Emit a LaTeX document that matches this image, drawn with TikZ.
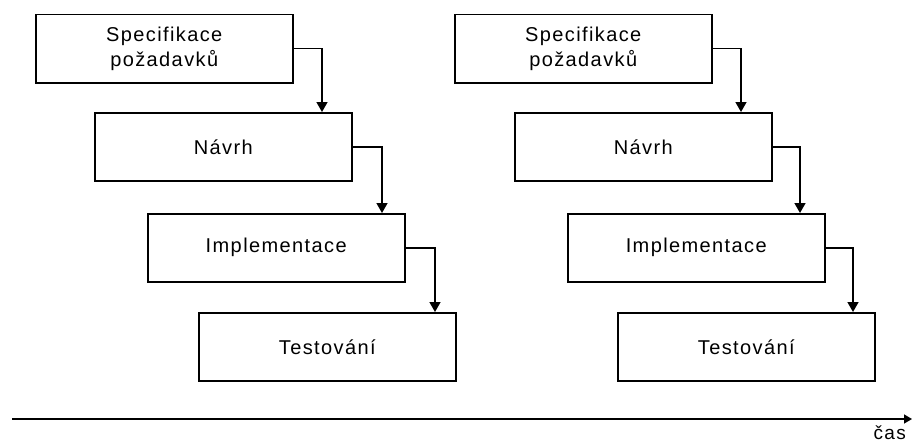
\documentclass[tikz,border=0pt]{standalone}
\usepackage{fontspec}
\setmainfont{Liberation Sans}[LetterSpace=7]
\usetikzlibrary{arrows.meta}
\begin{document}
\begin{tikzpicture}[x=1pt,y=-1pt,
  phase/.style={draw, line width=1.5pt, minimum width=257pt, minimum height=68pt,
    inner sep=0pt, anchor=north west, align=center,
    font=\fontsize{20}{25}\selectfont},
  flow/.style={line width=1.5pt, -{Triangle[width=11pt,length=10pt]}},
  axis/.style={line width=1.5pt, -{Triangle[width=9pt,length=8pt]}}]
\useasboundingbox (0,0) rectangle (912,444);

% first cycle
\node[phase] (s1) at (35,14)  {Specifikace\\požadavků};
\node[phase] (n1) at (94,112) {Návrh};
\node[phase] (i1) at (147,213) {Implementace};
\node[phase] (t1) at (198,312) {Testování};

% second cycle
\node[phase] (s2) at (454,14)  {Specifikace\\požadavků};
\node[phase] (n2) at (514,112) {Návrh};
\node[phase] (i2) at (567,213) {Implementace};
\node[phase] (t2) at (617,312) {Testování};

% hand-over between phases
\draw[flow] (s1.east) -| (n1.north -| 322,0);
\draw[flow] (n1.east) -| (i1.north -| 382,0);
\draw[flow] (i1.east) -| (t1.north -| 435,0);
\draw[flow] (s2.east) -| (n2.north -| 741,0);
\draw[flow] (n2.east) -| (i2.north -| 800,0);
\draw[flow] (i2.east) -| (t2.north -| 853,0);

% time axis
\coordinate (a0) at (12,419);
\coordinate (a1) at (912,419);
\draw[axis] (a0) -- (a1);
\node[font=\fontsize{19}{24}\selectfont, anchor=base east, inner sep=0pt] (cas) at (906,439) {čas};
\end{tikzpicture}
\end{document}
